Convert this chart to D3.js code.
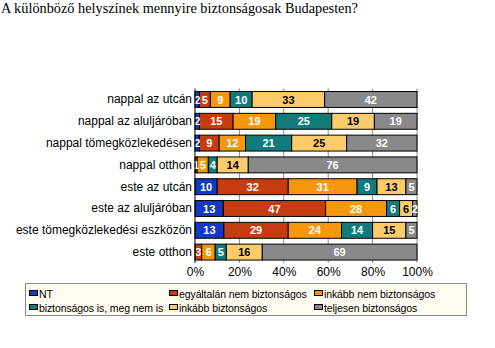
<!DOCTYPE html>
<html><head><meta charset="utf-8">
<script src="https://cdn.jsdelivr.net/npm/d3@7"></script>
<style>body{margin:0;background:#fff}svg{display:block}</style>
</head><body>
<script>
const categories = ["nappal az utcán","nappal az aluljáróban","nappal tömegközlekedésen","nappal otthon","este az utcán","este az aluljáróban","este tömegközlekedési eszközön","este otthon"];
const seriesNames = ["NT","egyáltalán nem biztonságos","inkább nem biztonságos","biztonságos is, meg nem is","inkább biztonságos","teljesen biztonságos"];
const NT            = [2, 2, 2, 0, 10, 13, 13, 0];
const egyaltalanNem = [5, 15, 9, 1, 32, 47, 29, 3];
const inkabbNem     = [9, 19, 12, 5, 31, 28, 24, 6];
const isIsNem       = [10, 25, 21, 4, 9, 6, 14, 5];
const inkabbBizt    = [33, 19, 25, 14, 13, 6, 15, 16];
const teljesen      = [42, 19, 32, 76, 5, 2, 5, 69];
const tickLabels = ["0%","20%","40%","60%","80%","100%"];
const colors = ["#1238c4","#c43c10","#f5980f","#137a7c","#fccb6a","#898989"];
const labelColors = ["#fff","#fff","#fff","#fff","#000","#fff"];

const seriesVals = [NT, egyaltalanNem, inkabbNem, isIsNem, inkabbBizt, teljesen];
const table = categories.map((c,i)=>{const o={cat:c}; seriesNames.forEach((s,j)=>o[s]=seriesVals[j][i]); return o;});

const W=495,H=348;
const svg=d3.select("body").append("svg").attr("width",W).attr("height",H);
svg.append("text").attr("x",1).attr("y",13).attr("font-family","Liberation Serif, Times New Roman, serif").attr("font-size",14.3).text("A különböző helyszínek mennyire biztonságosak Budapesten?");

const x=d3.scaleLinear().domain([0,1]).range([195,417]);
const y=d3.scaleBand().domain(categories).range([88.6,263]).paddingInner(0.27).paddingOuter(0.135);

const stack=d3.stack().keys(seriesNames).offset(d3.stackOffsetExpand);
const layers=stack(table);

// gridlines
svg.append("g").selectAll("line").data([0.2,0.4,0.6,0.8,1]).join("line")
 .attr("x1",d=>x(d)).attr("x2",d=>x(d)).attr("y1",88.6).attr("y2",263)
 .attr("stroke","#8c8c8c").attr("stroke-width",1);

const g=svg.append("g");
layers.forEach((L,j)=>{
  const gg=g.append("g");
  gg.selectAll("rect").data(L).join("rect")
   .attr("x",d=>x(d[0])).attr("y",d=>y(d.data.cat))
   .attr("width",d=>Math.max(0,x(d[1])-x(d[0]))).attr("height",y.bandwidth())
   .attr("fill",colors[j]).attr("stroke",d=>d.data[L.key]>0?"#000":"none").attr("stroke-width",1);
});
layers.forEach((L,j)=>{
  g.append("g").selectAll("text").data(L.filter(d=>d.data[L.key]>0)).join("text")
   .attr("x",d=>(x(d[0])+x(d[1]))/2).attr("y",d=>y(d.data.cat)+y.bandwidth()/2+4)
   .attr("text-anchor","middle").attr("font-family","Liberation Sans, Arial, sans-serif")
   .attr("font-weight","bold").attr("font-size",11).attr("fill",labelColors[j])
   .text(d=>d.data[L.key]);
});

// left axis line
svg.append("line").attr("x1",195).attr("x2",195).attr("y1",88.6).attr("y2",263).attr("stroke","#000");

// category labels
const yAxis=d3.axisLeft(y).tickSize(0).tickPadding(3);
const ya=svg.append("g").attr("transform","translate(195,0)").call(yAxis);
ya.select(".domain").remove();
ya.selectAll("text").attr("font-family","Liberation Sans, Arial, sans-serif").attr("font-size",12).attr("fill","#000");

// x axis labels
const xAxis=d3.axisBottom(x).tickValues([0,0.2,0.4,0.6,0.8,1]).tickFormat((d,i)=>tickLabels[i]).tickSize(0).tickPadding(4);
const xa=svg.append("g").attr("transform","translate(0,263)").call(xAxis);
xa.select(".domain").remove();
xa.selectAll("text").attr("font-family","Liberation Sans, Arial, sans-serif").attr("font-size",12).attr("fill","#000");

// legend
const lg=svg.append("g");
lg.append("rect").attr("x",25.5).attr("y",283.5).attr("width",441).attr("height",32).attr("fill","#fffbf0").attr("stroke","#8c8c8c");
const colX=[29,169,314], rowY=[294,308];
seriesNames.forEach((s,i)=>{
  const cx=colX[i%3], cy=rowY[Math.floor(i/3)];
  lg.append("rect").attr("x",cx+0.5).attr("y",cy-3.5).attr("width",8).attr("height",5).attr("fill",colors[i]).attr("stroke","#000").attr("stroke-width",1);
  lg.append("text").attr("x",cx+10).attr("y",cy+3.5).attr("font-family","Liberation Sans, Arial, sans-serif").attr("font-size",10.5).attr("letter-spacing","-0.1").text(s);
});
</script>
</body></html>
